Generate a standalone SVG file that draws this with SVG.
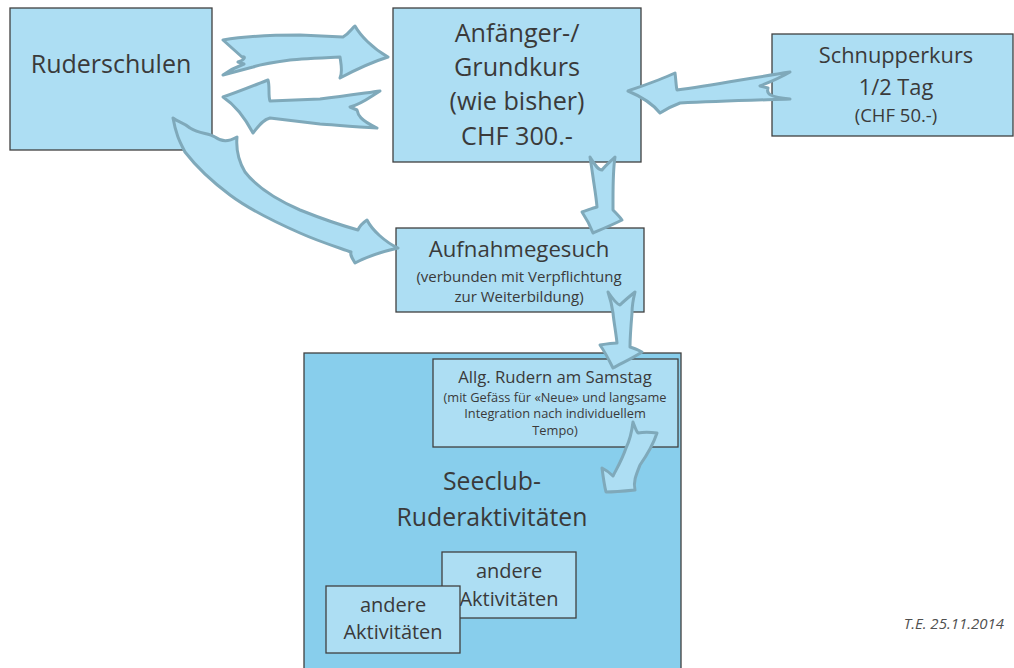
<svg xmlns="http://www.w3.org/2000/svg" width="1014" height="668" viewBox="0 0 1014 668">
<style>
.box{fill:#ADDEF3;stroke:#404040;stroke-width:1.3}
.big{fill:#88CEEC;stroke:#404040;stroke-width:1.3}
.t{font-family:"Open Sans","Liberation Sans",sans-serif;fill:#3a3a3a;text-anchor:middle}
.arr{fill:#ADDEF3;stroke:#7FA9BA;stroke-width:3;stroke-linejoin:round}
</style>
<rect width="1014" height="668" fill="#fff"/>
<g id="seeclub">
<rect class="big" x="304" y="353" width="377" height="330"/>
<text class="t" x="492" y="490" font-size="24.8">Seeclub-</text>
<text class="t" x="492" y="526" font-size="24.8">Ruderaktivitäten</text>
</g>
<g id="ruderschulen">
<rect class="box" x="10" y="8" width="202" height="142"/>
<text class="t" x="111" y="73" font-size="25">Ruderschulen</text>
</g>
<g id="grundkurs">
<rect class="box" x="393" y="8" width="248" height="154"/>
<text class="t" x="517" y="42" font-size="25.2">Anfänger-/</text>
<text class="t" x="517" y="76" font-size="25.2">Grundkurs</text>
<text class="t" x="517" y="110" font-size="25.2">(wie bisher)</text>
<text class="t" x="517" y="145" font-size="25.2">CHF 300.-</text>
</g>
<g id="schnupperkurs">
<rect class="box" x="772" y="34" width="241" height="102"/>
<text class="t" x="896" y="63" font-size="21.8">Schnupperkurs</text>
<text class="t" x="896" y="95" font-size="21.8">1/2 Tag</text>
<text class="t" x="896" y="122" font-size="18.5">(CHF 50.-)</text>
</g>
<g id="aufnahmegesuch">
<rect class="box" x="396" y="228" width="248" height="84"/>
<text class="t" x="519" y="257" font-size="22.2">Aufnahmegesuch</text>
<text class="t" x="519" y="282" font-size="15">(verbunden mit Verpflichtung</text>
<text class="t" x="519" y="302" font-size="15">zur Weiterbildung)</text>
</g>
<g id="samstag">
<rect class="box" x="433" y="359" width="245" height="88"/>
<text class="t" x="555" y="383" font-size="16.7">Allg. Rudern am Samstag</text>
<text class="t" x="555" y="402" font-size="12.8">(mit Gefäss für «Neue» und langsame</text>
<text class="t" x="555" y="418" font-size="12.8">Integration nach individuellem</text>
<text class="t" x="555" y="435" font-size="12.8">Tempo)</text>
</g>
<g id="andere1">
<rect class="box" x="442" y="552" width="134" height="66"/>
<text class="t" x="509" y="578" font-size="20">andere</text>
<text class="t" x="509" y="606" font-size="20">Aktivitäten</text>
</g>
<g id="andere2">
<rect class="box" x="326" y="586" width="134" height="67"/>
<text class="t" x="393" y="612" font-size="20">andere</text>
<text class="t" x="393" y="639" font-size="20">Aktivitäten</text>
</g>
<g id="connectors">
<path class="arr" d="M223,40 C240,37 260,35 300,35 L343,37 C350,33 352,28 355,26 C360,35 372,48 388,57 C372,62 355,70 340,78 C343,72 341,64 340,57 C320,58 300,59 290,60 C275,62 262,64 253,67 L223,75 C230,70 236,67 244,64 L238,62 C245,60 246,56 242,57 L223,40 Z"/>
<path class="arr" d="M223,97 C238,92 255,85 268,80 C270,87 268,95 270,101 L320,99 C345,96 365,93 380,91 C370,97 362,104 350,107 L357,110 C358,115 360,120 377,128 C355,127 335,125 320,124 L270,118 C262,120 258,127 253,133 C245,118 235,105 223,97 Z"/>
<path class="arr" d="M173,118 C178,122 183,122 190,128 C200,134 208,133 215,137 C222,142 228,142 237,137 C236,148 238,160 245,172 C255,185 270,197 300,210 C320,218 340,225 358,230 C360,225 364,222 367,220 C372,230 385,242 398,248 C385,251 370,255 355,263 C352,258 350,255 351,252 C340,248 320,242 300,233 C275,222 250,210 230,195 C210,180 195,165 185,152 C180,142 176,135 173,118 Z"/>
<path class="arr" d="M628,91 C645,85 660,80 675,73 C676,80 676,86 677,90 C710,86 750,78 790,72 C780,78 770,82 760,86 L768,88 C766,94 770,97 790,99 C760,100 720,101 680,103 C672,106 666,109 660,113 C652,103 640,96 628,91 Z"/>
<path class="arr" d="M590,157 C595,165 598,170 602,170 C606,165 610,162 615,157 C613,170 613,185 613,200 L613,210 C617,214 620,217 622,220 C612,225 600,230 593,233 C590,225 586,218 582,212 C588,210 593,208 597,207 C596,195 594,185 593,177 C592,170 591,163 590,157 Z"/>
<path class="arr" d="M608,292 C612,298 616,304 620,305 C625,300 630,296 635,292 C633,300 632,306 632,313 C631,325 630,337 630,347 C634,348 638,350 642,352 C633,358 622,363 613,368 C609,360 605,352 600,345 C606,344 612,343 617,343 C616,333 614,323 613,313 C612,305 610,298 608,292 Z"/>
<path class="arr" d="M633,422 C635,427 636,431 638,433 C643,432 650,432 657,433 C653,445 647,455 640,465 C636,475 633,482 635,490 C625,491 615,492 606,492 C604,484 603,476 602,468 C606,470 610,473 613,476 C617,468 622,460 626,448 C630,440 632,430 633,422 Z"/>
</g>
<text x="1004" y="629" font-family="'Open Sans','Liberation Sans',sans-serif" font-style="italic" font-size="15" fill="#505050" text-anchor="end">T.E. 25.11.2014</text>
</svg>
